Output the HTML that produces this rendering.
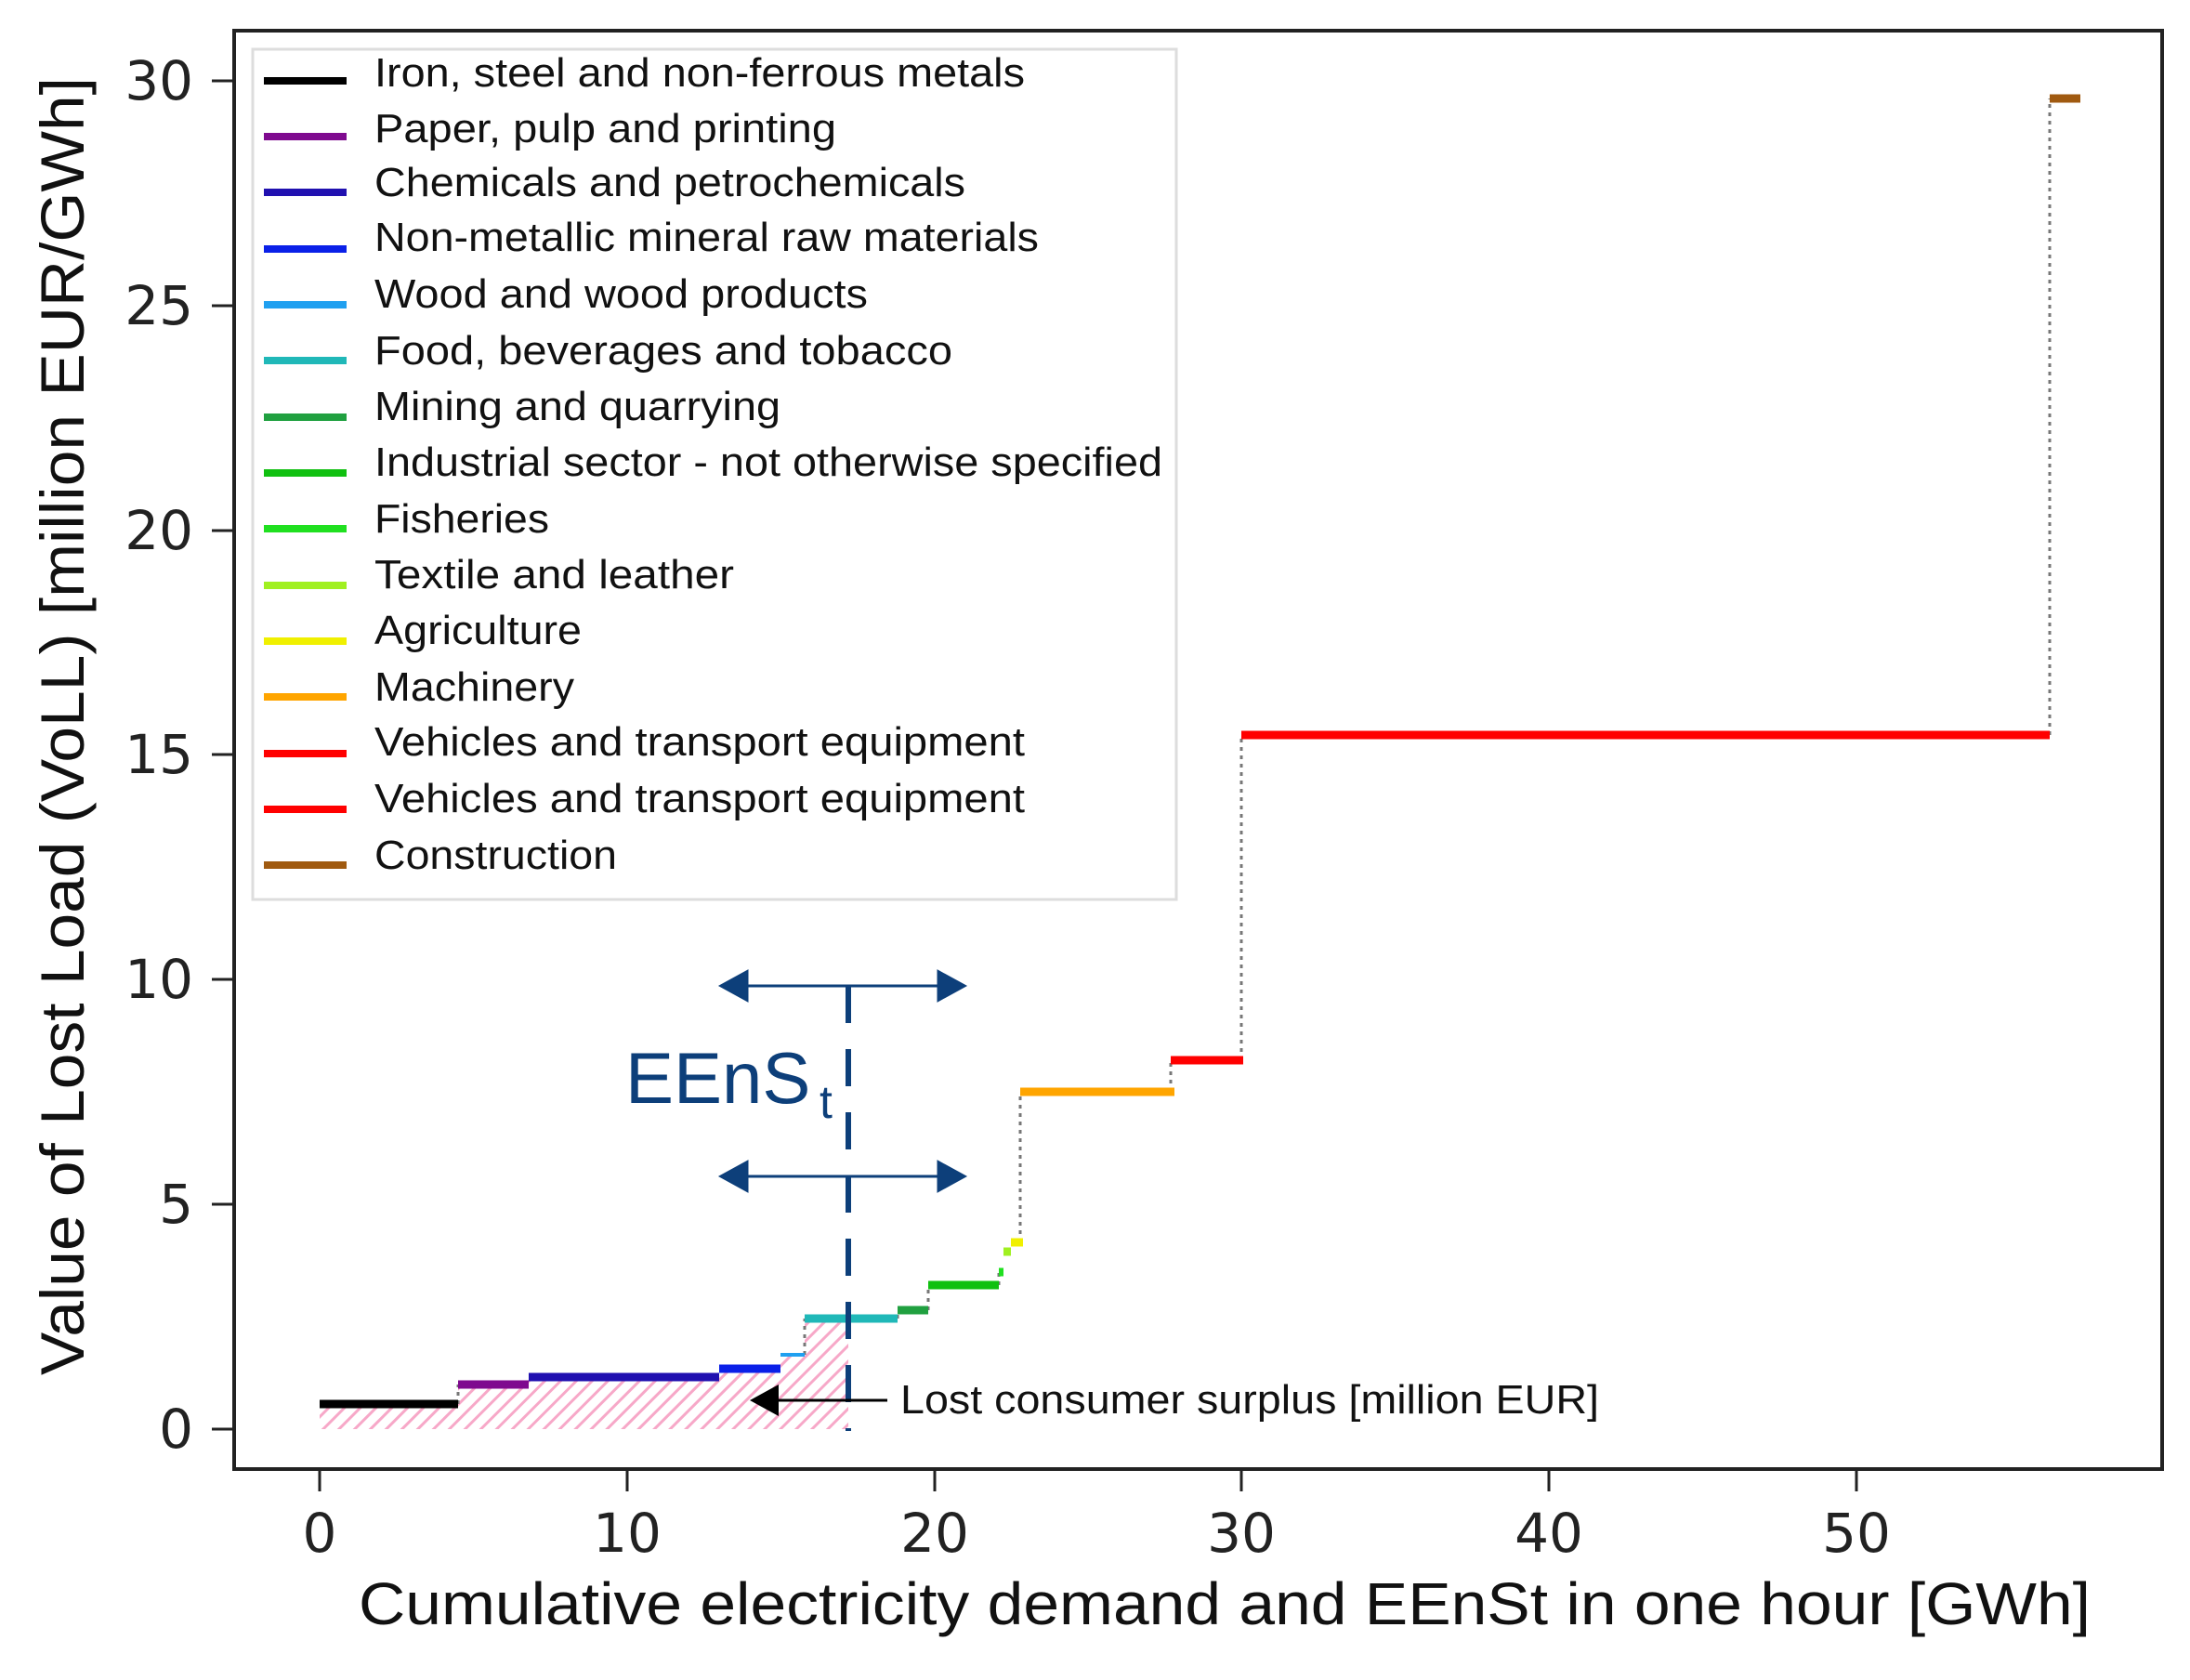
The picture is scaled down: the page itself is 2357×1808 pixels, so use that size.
<!DOCTYPE html>
<html><head><meta charset="utf-8"><style>
html,body{margin:0;padding:0;background:#fff}
svg{display:block}
text{font-family:"DejaVu Sans","Liberation Sans",sans-serif}
.lg, .lg text{font-family:"Liberation Sans",sans-serif;font-size:44px;fill:#111}
</style></head><body>
<svg width="2357" height="1808" viewBox="0 0 2357 1808" xmlns="http://www.w3.org/2000/svg">
<defs>
<pattern id="h" width="12" height="12" patternUnits="userSpaceOnUse" patternTransform="rotate(45)">
<rect width="12" height="12" fill="#fff"/>
<line x1="0" y1="0" x2="0" y2="12" stroke="#f7a8c8" stroke-width="6"/>
</pattern>
</defs>
<rect width="2357" height="1808" fill="#fff"/>
<polygon points="344,1538 344,1511 493,1511 493,1490 569,1490 569,1482 774,1482 774,1473 840,1473 840,1458 866,1458 866,1419 913,1419 913,1538" fill="url(#h)"/>
<g stroke="#777" stroke-width="3" stroke-dasharray="4,5" fill="none">
<line x1="493" y1="1511" x2="493" y2="1490"/>
<line x1="866" y1="1458" x2="866" y2="1419"/>
<line x1="966" y1="1419" x2="966" y2="1410"/>
<line x1="999" y1="1410" x2="999" y2="1383"/>
<line x1="1075" y1="1383" x2="1075" y2="1369"/>
<line x1="1098" y1="1337" x2="1098" y2="1175"/>
<line x1="1260" y1="1175" x2="1260" y2="1141"/>
<line x1="1336" y1="1141" x2="1336" y2="791"/>
<line x1="2206" y1="791" x2="2206" y2="106"/>
</g>
<g stroke-width="9" fill="none">
<line x1="344" y1="1511" x2="493" y2="1511" stroke="#000"/>
<line x1="493" y1="1490" x2="569" y2="1490" stroke="#7f0a8f"/>
<line x1="569" y1="1482" x2="774" y2="1482" stroke="#2010b0"/>
<line x1="774" y1="1473" x2="840" y2="1473" stroke="#0a20e8"/>
<line x1="840" y1="1458" x2="866" y2="1458" stroke="#20a0f0" stroke-width="4"/>
<line x1="866" y1="1419" x2="966" y2="1419" stroke="#20b8b8"/>
<line x1="966" y1="1410" x2="999" y2="1410" stroke="#20a040"/>
<line x1="999" y1="1383" x2="1075" y2="1383" stroke="#10c010"/>
<line x1="1075" y1="1369" x2="1080" y2="1369" stroke="#20e020"/>
<line x1="1080" y1="1347" x2="1088" y2="1347" stroke="#a0f020"/>
<line x1="1088" y1="1337" x2="1101" y2="1337" stroke="#f0f000"/>
<line x1="1098" y1="1175" x2="1264" y2="1175" stroke="#ffa500"/>
<line x1="1260" y1="1141" x2="1338" y2="1141" stroke="#ff0000"/>
<line x1="1336" y1="791" x2="2206" y2="791" stroke="#ff0000"/>
<line x1="2206" y1="106" x2="2239" y2="106" stroke="#a05a10"/>
</g>
<g stroke="#0d3f7a" fill="#0d3f7a">
<line x1="913" y1="1061" x2="913" y2="1540" stroke-width="6" stroke-dasharray="40,28" fill="none"/>
<line x1="800" y1="1061" x2="1010" y2="1061" stroke-width="3"/>
<polygon points="774,1061 805,1044 805,1078"/>
<polygon points="1040,1061 1009,1044 1009,1078"/>
<line x1="800" y1="1266" x2="1010" y2="1266" stroke-width="3"/>
<polygon points="774,1266 805,1249 805,1283"/>
<polygon points="1040,1266 1009,1249 1009,1283"/>
</g>
<text x="673" y="1187" font-size="78" fill="#0d3f7a" style="font-family:'Liberation Sans',sans-serif">EEnS</text>
<text x="882" y="1203" font-size="50" fill="#0d3f7a" style="font-family:'Liberation Sans',sans-serif">t</text>
<line x1="830" y1="1507" x2="955" y2="1507" stroke="#000" stroke-width="3"/>
<polygon points="807,1507 838,1490 838,1524" fill="#000"/>
<text x="969" y="1521" font-size="44" fill="#111" textLength="752" lengthAdjust="spacingAndGlyphs" style="font-family:'Liberation Sans',sans-serif">Lost consumer surplus [million EUR]</text>
<rect x="252" y="33" width="2075" height="1548" fill="none" stroke="#222" stroke-width="4"/>
<g stroke="#222" stroke-width="3">
<line x1="228" y1="1538" x2="252" y2="1538"/>
<line x1="228" y1="1296" x2="252" y2="1296"/>
<line x1="228" y1="1054" x2="252" y2="1054"/>
<line x1="228" y1="812" x2="252" y2="812"/>
<line x1="228" y1="571" x2="252" y2="571"/>
<line x1="228" y1="329" x2="252" y2="329"/>
<line x1="228" y1="87" x2="252" y2="87"/>
<line x1="344" y1="1581" x2="344" y2="1605"/>
<line x1="675" y1="1581" x2="675" y2="1605"/>
<line x1="1006" y1="1581" x2="1006" y2="1605"/>
<line x1="1336" y1="1581" x2="1336" y2="1605"/>
<line x1="1667" y1="1581" x2="1667" y2="1605"/>
<line x1="1998" y1="1581" x2="1998" y2="1605"/>
</g>
<g font-size="58" fill="#222" text-anchor="end">
<text x="208" y="1558">0</text>
<text x="208" y="1316">5</text>
<text x="208" y="1074">10</text>
<text x="208" y="832">15</text>
<text x="208" y="591">20</text>
<text x="208" y="349">25</text>
<text x="208" y="107">30</text>
</g>
<g font-size="58" fill="#222" text-anchor="middle">
<text x="344" y="1670">0</text>
<text x="675" y="1670">10</text>
<text x="1006" y="1670">20</text>
<text x="1336" y="1670">30</text>
<text x="1667" y="1670">40</text>
<text x="1998" y="1670">50</text>
</g>
<text x="386" y="1748" font-size="64" fill="#111" textLength="1864" lengthAdjust="spacingAndGlyphs" style="font-family:'Liberation Sans',sans-serif">Cumulative electricity demand and EEnSt in one hour [GWh]</text>
<text transform="translate(90,1480) rotate(-90)" font-size="66" fill="#111" textLength="1397" lengthAdjust="spacingAndGlyphs" style="font-family:'Liberation Sans',sans-serif">Value of Lost Load (VoLL) [million EUR/GWh]</text>
<rect x="272" y="53" width="994" height="915" fill="#fff" stroke="#ddd" stroke-width="3"/>
<g stroke-width="8">
<line x1="284" y1="87" x2="373" y2="87" stroke="#000"/>
<line x1="284" y1="147" x2="373" y2="147" stroke="#7f0a8f"/>
<line x1="284" y1="207" x2="373" y2="207" stroke="#2010b0"/>
<line x1="284" y1="268" x2="373" y2="268" stroke="#0a20e8"/>
<line x1="284" y1="328" x2="373" y2="328" stroke="#20a0f0"/>
<line x1="284" y1="388" x2="373" y2="388" stroke="#20b8b8"/>
<line x1="284" y1="449" x2="373" y2="449" stroke="#20a040"/>
<line x1="284" y1="509" x2="373" y2="509" stroke="#10c010"/>
<line x1="284" y1="569" x2="373" y2="569" stroke="#20e020"/>
<line x1="284" y1="630" x2="373" y2="630" stroke="#a0f020"/>
<line x1="284" y1="690" x2="373" y2="690" stroke="#f0f000"/>
<line x1="284" y1="750" x2="373" y2="750" stroke="#ffa500"/>
<line x1="284" y1="811" x2="373" y2="811" stroke="#ff0000"/>
<line x1="284" y1="871" x2="373" y2="871" stroke="#ff0000"/>
<line x1="284" y1="931" x2="373" y2="931" stroke="#a05a10"/>
</g>
<g class="lg">
<text x="403" y="93" textLength="700" lengthAdjust="spacingAndGlyphs">Iron, steel and non-ferrous metals</text>
<text x="403" y="153" textLength="497" lengthAdjust="spacingAndGlyphs">Paper, pulp and printing</text>
<text x="403" y="211" textLength="636" lengthAdjust="spacingAndGlyphs">Chemicals and petrochemicals</text>
<text x="403" y="270" textLength="715" lengthAdjust="spacingAndGlyphs">Non-metallic mineral raw materials</text>
<text x="403" y="331" textLength="531" lengthAdjust="spacingAndGlyphs">Wood and wood products</text>
<text x="403" y="392" textLength="622" lengthAdjust="spacingAndGlyphs">Food, beverages and tobacco</text>
<text x="403" y="452" textLength="437" lengthAdjust="spacingAndGlyphs">Mining and quarrying</text>
<text x="403" y="512" textLength="848" lengthAdjust="spacingAndGlyphs">Industrial sector - not otherwise specified</text>
<text x="403" y="573" textLength="188" lengthAdjust="spacingAndGlyphs">Fisheries</text>
<text x="403" y="633" textLength="387" lengthAdjust="spacingAndGlyphs">Textile and leather</text>
<text x="403" y="693" textLength="223" lengthAdjust="spacingAndGlyphs">Agriculture</text>
<text x="403" y="754" textLength="215" lengthAdjust="spacingAndGlyphs">Machinery</text>
<text x="403" y="813" textLength="700" lengthAdjust="spacingAndGlyphs">Vehicles and transport equipment</text>
<text x="403" y="874" textLength="700" lengthAdjust="spacingAndGlyphs">Vehicles and transport equipment</text>
<text x="403" y="935" textLength="261" lengthAdjust="spacingAndGlyphs">Construction</text>
</g>
</svg>
</body></html>
